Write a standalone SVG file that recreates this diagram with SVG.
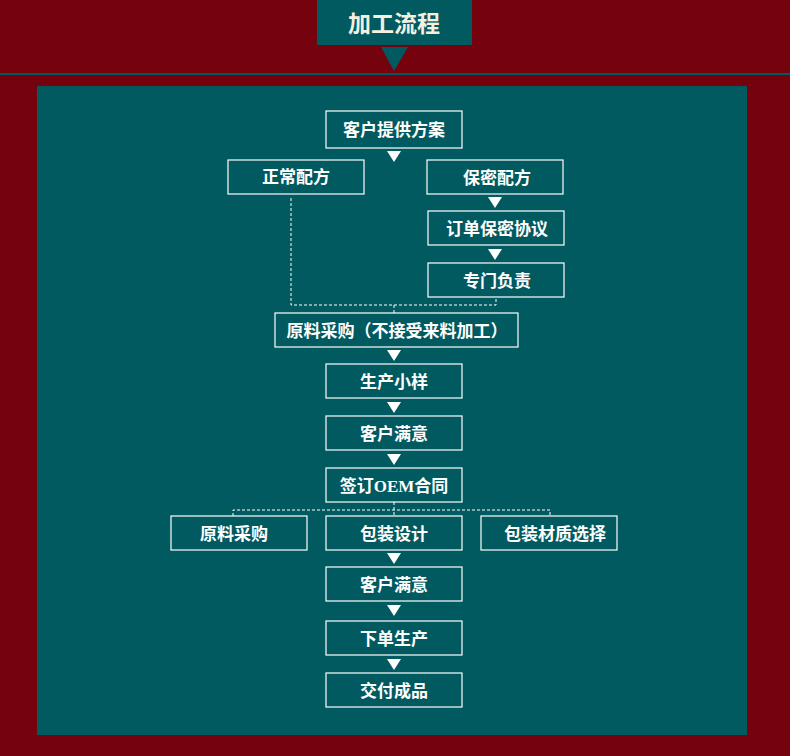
<svg xmlns="http://www.w3.org/2000/svg" width="790" height="756" viewBox="0 0 790 756">
<defs><style>
.b{fill:none;stroke:#fff;stroke-width:1.2}
.t{fill:#fff;font-family:"Liberation Serif","Noto Sans CJK SC",serif;font-weight:bold;font-size:17px;text-anchor:middle}
.c{fill:none;stroke:#fff;stroke-width:1;stroke-dasharray:3 2}
.a{fill:#fff}
</style></defs>
<rect width="790" height="756" fill="#75030d"/>
<rect x="317" y="0" width="155" height="45" fill="#005a60"/>
<text x="394" y="32" class="t" style="font-size:23px;fill:#f5f0e0">加工流程</text>
<polygon points="381,47 408,47 394,71" fill="#005a60"/>
<rect x="0" y="73" width="790" height="2" fill="#005a60"/>
<rect x="37" y="86" width="710" height="649" fill="#005a60"/>
<g id="connectors">
<path class="c" d="M291,198V305H496V298M394,305V313"/>
<path class="c" d="M233,516V510H550V516M394,502V516"/>
<polygon class="a" points="387,151 401,151 394,162"/>
<polygon class="a" points="488,197 502,197 495,208"/>
<polygon class="a" points="488,249 502,249 495,260"/>
<polygon class="a" points="387,350 401,350 394,361"/>
<polygon class="a" points="387,402 401,402 394,413"/>
<polygon class="a" points="387,454 401,454 394,465"/>
<polygon class="a" points="387,553 401,553 394,564"/>
<polygon class="a" points="387,605 401,605 394,616"/>
<polygon class="a" points="387,659 401,659 394,670"/>
</g>
<g id="n1"><rect class="b" x="326" y="111" width="136" height="37"/><text class="t" x="394" y="136">客户提供方案</text></g>
<g id="n2"><rect class="b" x="228" y="160" width="136" height="34"/><text class="t" x="296" y="183">正常配方</text></g>
<g id="n3"><rect class="b" x="427" y="160" width="136" height="34"/><text class="t" x="497" y="184">保密配方</text></g>
<g id="n4"><rect class="b" x="428" y="211" width="136" height="34"/><text class="t" x="497" y="235">订单保密协议</text></g>
<g id="n5"><rect class="b" x="428" y="263" width="136" height="34"/><text class="t" x="497" y="287">专门负责</text></g>
<g id="n6"><rect class="b" x="275" y="313" width="243" height="34"/><text class="t" x="397" y="337">原料采购（不接受来料加工）</text></g>
<g id="n7"><rect class="b" x="326" y="364" width="136" height="34"/><text class="t" x="394" y="388">生产小样</text></g>
<g id="n8"><rect class="b" x="326" y="416" width="136" height="34"/><text class="t" x="394" y="440">客户满意</text></g>
<g id="n9"><rect class="b" x="326" y="468" width="136" height="34"/><text class="t" x="394" y="492">签订OEM合同</text></g>
<g id="n10"><rect class="b" x="171" y="516" width="136" height="34"/><text class="t" x="234" y="540">原料采购</text></g>
<g id="n11"><rect class="b" x="326" y="516" width="136" height="34"/><text class="t" x="394" y="540">包装设计</text></g>
<g id="n12"><rect class="b" x="481" y="516" width="136" height="34"/><text class="t" x="555" y="540">包装材质选择</text></g>
<g id="n13"><rect class="b" x="326" y="567" width="136" height="34"/><text class="t" x="394" y="591">客户满意</text></g>
<g id="n14"><rect class="b" x="326" y="621" width="136" height="34"/><text class="t" x="394" y="645">下单生产</text></g>
<g id="n15"><rect class="b" x="326" y="673" width="136" height="34"/><text class="t" x="394" y="697">交付成品</text></g>
</svg>
